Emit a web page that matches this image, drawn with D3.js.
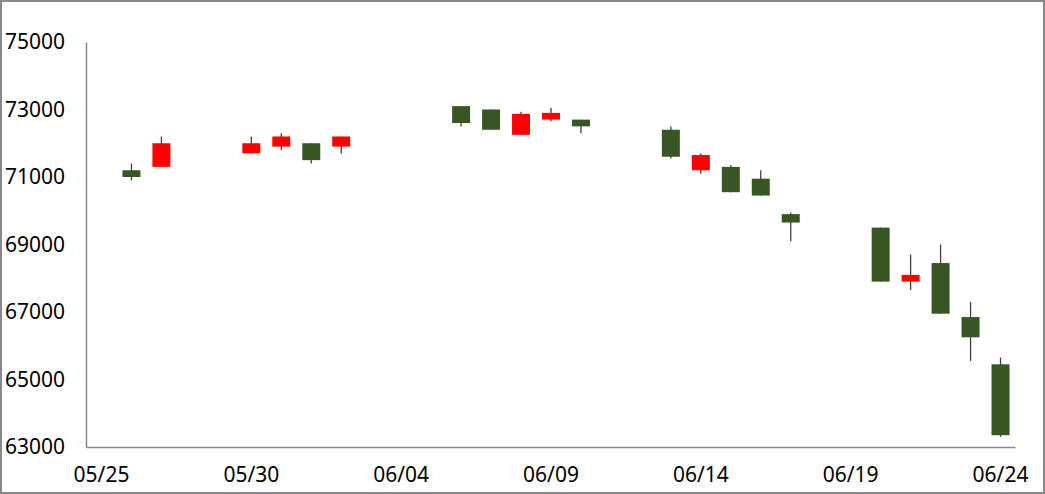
<!DOCTYPE html>
<html>
<head>
<meta charset="utf-8">
<script src="https://cdn.jsdelivr.net/npm/d3@7"></script>
<style>
html, body { margin: 0; padding: 0; background: #fff; }
svg { display: block; }
</style>
</head>
<body>
<svg id="chart" width="1045" height="494"></svg>
<script>
const dates = ["05/26","05/27","05/30","05/31","06/01","06/02","06/06","06/07","06/08","06/09","06/10",
               "06/13","06/14","06/15","06/16","06/17","06/20","06/21","06/22","06/23","06/24"];
const openVals  = [71200,71300,71700,71900,72000,71900,73100,73000,72250,72700,72700,
                   72400,71200,71300,70950,69900,69500,67900,68450,66850,65450];
const highVals  = [71400,72200,72200,72300,72000,72200,73100,73000,72930,73050,72700,
                   72500,71700,71350,71200,69950,69500,68700,69000,67300,65650];
const lowVals   = [70900,71300,71700,71800,71400,71700,72500,72400,72250,72650,72300,
                   71550,71100,70550,70450,69100,67900,67650,66950,65550,63300];
const closeVals = [71000,72000,72000,72200,71500,72200,72600,72400,72870,72900,72500,
                   71600,71650,70550,70450,69650,67900,68100,66950,66250,63350];
const yTicks = [63000,65000,67000,69000,71000,73000,75000];
const xTickLabels = ["05/25","05/30","06/04","06/09","06/14","06/19","06/24"];

const year = 2022;
const parse = s => { const [m,d] = s.split("/").map(Number); return new Date(year, m-1, d); };
const HALF = 12*3600*1000;
const DAY = 24*3600*1000;

const svg = d3.select("#chart");
const W = 1045, H = 494;

svg.append("rect").attr("x",1).attr("y",1).attr("width",W-2).attr("height",H-2)
  .attr("fill","#fff").attr("stroke","#888").attr("stroke-width",2);

const x0 = parse(xTickLabels[0]), x1 = parse(xTickLabels[xTickLabels.length-1]);
const x = d3.scaleTime()
  .domain([new Date(+x0 - HALF), new Date(+x1 + HALF)])
  .range([86, 1015]);
const y = d3.scaleLinear().domain([63000, 75000]).range([447, 42]);

const font = "'Noto Sans', 'DejaVu Sans', sans-serif";

// axes
const xAxis = d3.axisBottom(x)
  .tickValues(xTickLabels.map(parse))
  .tickFormat((d,i) => xTickLabels[i])
  .tickSize(0).tickPadding(20);
const gx = svg.append("g").attr("transform","translate(0,447)").call(xAxis);
gx.select(".domain").attr("stroke","#888").attr("stroke-width",1.5);
gx.selectAll("text").attr("font-family",font).attr("font-size",21).attr("fill","#000");

const yAxis = d3.axisLeft(y).tickValues(yTicks).tickFormat(d3.format("d")).tickSize(0).tickPadding(21);
const gy = svg.append("g").attr("transform","translate(86,0)").call(yAxis);
gy.select(".domain").attr("stroke","#888").attr("stroke-width",1.5);
gy.selectAll("text").attr("font-family",font).attr("font-size",21).attr("fill","#000");

// candles
const data = dates.map((d,i) => ({date: parse(d), o: openVals[i], h: highVals[i], l: lowVals[i], c: closeVals[i]}));
const dayW = x(new Date(+x0 + DAY)) - x(x0);
const bw = dayW * 0.6;

const g = svg.append("g");
g.selectAll("line.wick").data(data).join("line")
  .attr("class","wick")
  .attr("x1", d => x(d.date) + 0.5).attr("x2", d => x(d.date) + 0.5)
  .attr("y1", d => y(d.h)).attr("y2", d => y(d.l))
  .attr("stroke","#404040").attr("stroke-width",1.3);
g.selectAll("rect.body").data(data).join("rect")
  .attr("class","body")
  .attr("x", d => x(d.date) - bw/2 + 0.5)
  .attr("y", d => y(Math.max(d.o,d.c)))
  .attr("width", bw)
  .attr("height", d => Math.max(1, Math.abs(y(d.o) - y(d.c))))
  .attr("fill", d => d.c > d.o ? "#ff0000" : "#375623");
</script>
</body>
</html>
